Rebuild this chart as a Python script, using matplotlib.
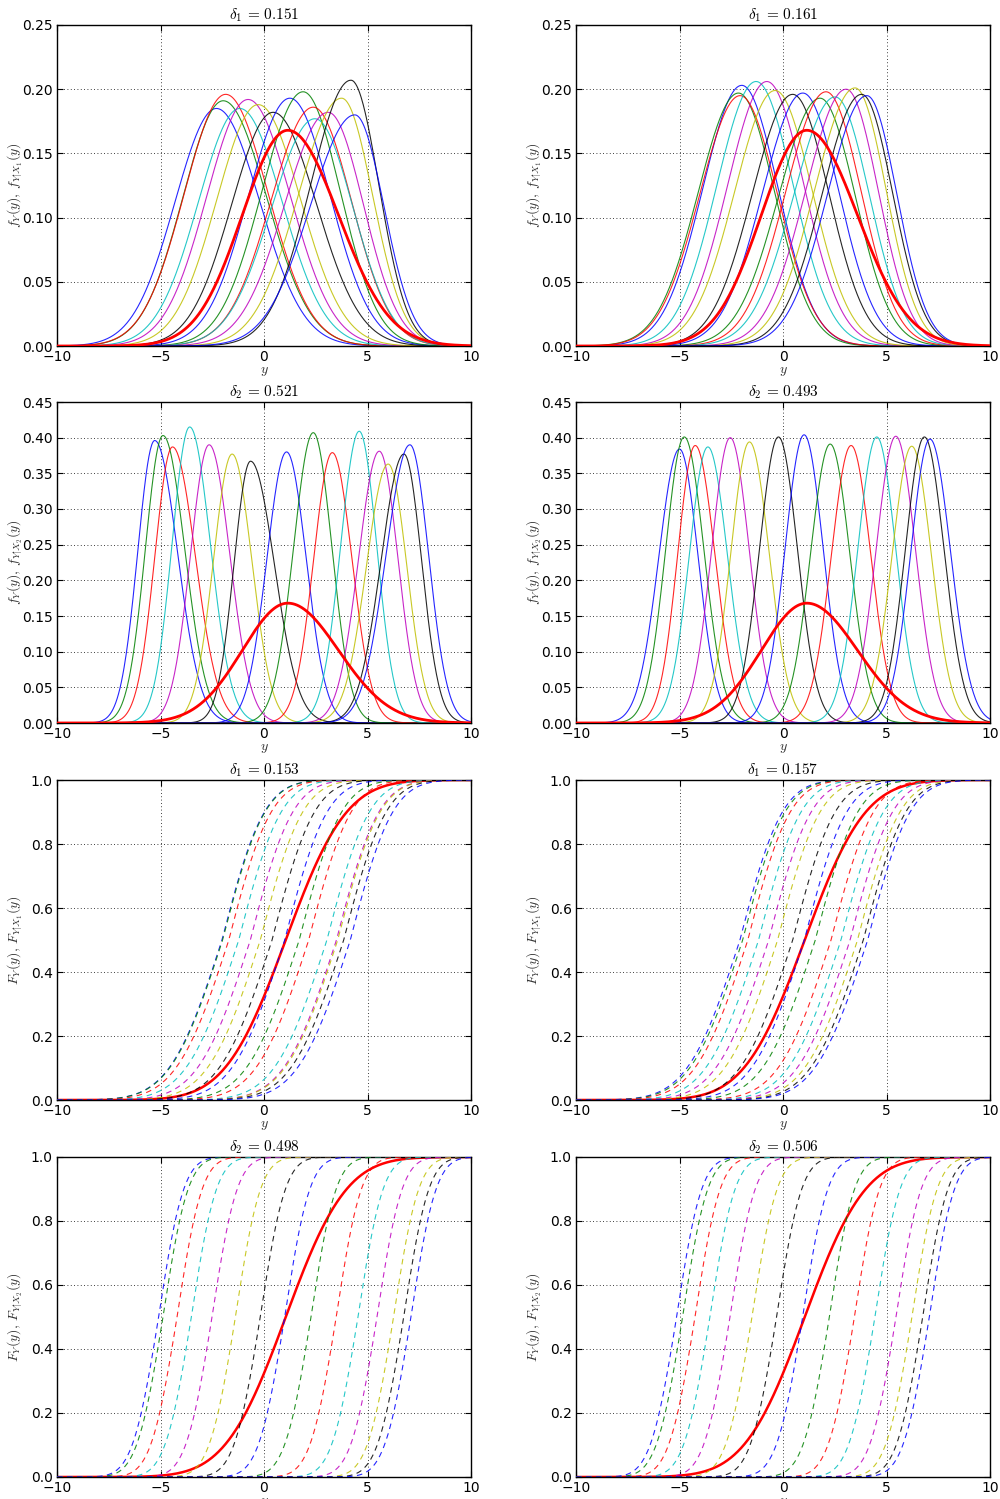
import numpy as np
import matplotlib
matplotlib.use('Agg')
import matplotlib.pyplot as plt
from matplotlib.ticker import FormatStrFormatter
from math import erf, sqrt

plt.rcParams['mathtext.fontset'] = 'cm'
plt.rcParams['font.family'] = ['DejaVu Sans']

# old matplotlib colour cycle: b g r c m y k
colours = ['#0000ff', '#008000', '#ff0000', '#00bfbf', '#bf00bf', '#bfbf00', '#000000']

# unconditional Y (thick red line, same in every panel)
y_centre = 1.15
y_peak = 0.168
y_sd_left = 2.2
y_sd_right = 2.45
y_median = 1.05
y_sd = 2.3

# row 1, left: f_{Y|X1}, delta_1 = 0.151
pdf1a_centre = [-2.3, -1.97, -1.85, -1.17, -0.77, -0.28, 0.44, 1.25, 1.89, 2.38, 2.46, 3.1, 3.75, 4.2, 4.39]
pdf1a_peak = [0.185, 0.191, 0.196, 0.185, 0.192, 0.188, 0.182, 0.193, 0.198, 0.186, 0.177, 0.182, 0.193, 0.207, 0.180]
pdf1a_sl = [2.0, 1.95, 2.0, 2.0, 2.0, 2.0, 2.0, 2.0, 2.0, 2.05, 2.1, 2.1, 2.1, 1.95, 2.15]
pdf1a_sr = [2.1, 2.1, 2.05, 2.05, 2.05, 2.05, 2.1, 1.95, 1.8, 1.85, 1.85, 1.7, 1.5, 1.35, 1.4]

# row 1, right: f_{Y|X1}, delta_1 = 0.161
pdf1b_centre = [-1.99, -2.15, -2.07, -1.3, -0.78, -0.38, 0.47, 0.96, 1.79, 2.08, 2.52, 3.05, 3.48, 3.8, 4.05]
pdf1b_peak = [0.203, 0.197, 0.195, 0.206, 0.206, 0.199, 0.196, 0.197, 0.193, 0.198, 0.194, 0.200, 0.201, 0.196, 0.195]
pdf1b_sl = [1.88, 1.95, 1.95, 1.9, 1.9, 1.95, 1.95, 1.95, 2.0, 1.95, 2.0, 1.95, 1.95, 1.9, 1.9]
pdf1b_sr = [1.75, 1.75, 1.8, 1.8, 1.8, 1.8, 1.75, 1.75, 1.7, 1.7, 1.65, 1.55, 1.5, 1.5, 1.45]

# row 2, left: f_{Y|X2}, delta_2 = 0.521
pdf2a_centre = [-5.28, -4.88, -4.42, -3.59, -2.65, -1.54, -0.65, 1.09, 2.38, 3.3, 4.6, 5.57, 6.0, 6.76, 7.05]
pdf2a_peak = [0.396, 0.403, 0.387, 0.415, 0.390, 0.377, 0.367, 0.380, 0.407, 0.379, 0.409, 0.381, 0.363, 0.377, 0.390]
pdf2a_sl = [0.82, 0.85, 0.85, 0.85, 0.9, 0.9, 0.8, 0.95, 0.95, 0.9, 0.9, 1.0, 1.05, 1.1, 1.15]
pdf2a_sr = [1.1, 1.05, 1.1, 1.0, 1.0, 0.95, 1.15, 0.95, 0.9, 0.95, 0.85, 0.9, 0.9, 0.85, 0.9]

# row 2, right: f_{Y|X2}, delta_2 = 0.493
pdf2b_centre = [-5.0, -4.77, -4.24, -3.63, -2.55, -1.62, -0.22, 1.02, 2.28, 3.29, 4.53, 5.45, 6.22, 6.83, 7.10]
pdf2b_peak = [0.384, 0.401, 0.389, 0.387, 0.400, 0.394, 0.401, 0.404, 0.391, 0.389, 0.401, 0.402, 0.388, 0.401, 0.398]
pdf2b_sl = [1.0, 0.9, 0.85, 0.9, 0.9, 0.9, 0.92, 0.92, 0.95, 0.95, 0.92, 0.95, 0.95, 0.92, 0.92]
pdf2b_sr = [0.9, 0.95, 0.95, 0.95, 0.92, 0.95, 0.92, 0.92, 0.95, 0.95, 0.92, 0.95, 0.95, 0.95, 0.99]

cdf1a_median = [-2.03, -2.0, -1.7, -1.22, -0.66, -0.18, 0.39, 1.0, 1.7, 2.16, 3.04, 3.5, 3.56, 3.85, 4.17]
cdf1b_median = [-2.08, -1.95, -1.7, -1.18, -0.69, -0.26, 0.47, 1.03, 1.56, 2.32, 2.8, 3.24, 3.6, 3.88, 4.09]
cdf1_sl = 2.0
cdf1_sr = 1.6

# row 4: F_{Y|X2}
cdf2a_median = [-5.09, -4.88, -4.2, -3.51, -2.51, -1.38, -0.18, 1.0, 2.27, 3.49, 4.54, 5.46, 6.26, 6.75, 7.1]
cdf2b_median = [-5.14, -4.85, -4.25, -3.53, -2.56, -1.5, -0.31, 0.95, 2.24, 3.45, 4.44, 5.46, 6.23, 6.75, 7.07]
cdf2_sl = 1.0
cdf2_sr = 0.95

titles = [r'$\delta_1\,=\,0.151$', r'$\delta_1\,=\,0.161$',
          r'$\delta_2\,=\,0.521$', r'$\delta_2\,=\,0.493$',
          r'$\delta_1\,=\,0.153$', r'$\delta_1\,=\,0.157$',
          r'$\delta_2\,=\,0.498$', r'$\delta_2\,=\,0.506$']
ylabels = [r'$f_Y(y),\, f_{Y|X_1}(y)$', r'$f_Y(y),\, f_{Y|X_2}(y)$',
           r'$F_Y(y),\, F_{Y|X_1}(y)$', r'$F_Y(y),\, F_{Y|X_2}(y)$']

yy = np.linspace(-10, 10, 600)


def bump(c, peak, sl, sr):
    s = np.where(yy < c, sl, sr)
    return peak * np.exp(-(yy - c) ** 2 / (2. * s ** 2))


def cum(m, sl, sr):
    s = np.where(yy < m, sl, sr)
    z = (yy - m) / s
    return np.array([0.5 * (1. + erf(v / sqrt(2.))) for v in z])


fig = plt.figure(figsize=(10, 14.99), dpi=100)
H = 1499.
col_left = [57 / 1000., 576 / 1000.]
row_px = [(25, 346), (402, 723), (780, 1100), (1157, 1477)]

pdf_sets = [[(pdf1a_centre, pdf1a_peak, pdf1a_sl, pdf1a_sr), (pdf1b_centre, pdf1b_peak, pdf1b_sl, pdf1b_sr)],
            [(pdf2a_centre, pdf2a_peak, pdf2a_sl, pdf2a_sr), (pdf2b_centre, pdf2b_peak, pdf2b_sl, pdf2b_sr)]]
cdf_sets = [[(cdf1a_median, cdf1_sl, cdf1_sr), (cdf1b_median, cdf1_sl, cdf1_sr)],
            [(cdf2a_median, cdf2_sl, cdf2_sr), (cdf2b_median, cdf2_sl, cdf2_sr)]]

for r in range(4):
    top, bot = row_px[r]
    for c in range(2):
        ax = fig.add_axes([col_left[c], 1 - bot / H, 0.414, (bot - top) / H])
        if r < 2:
            # densities
            ax.plot(yy, bump(y_centre, y_peak, y_sd_left, y_sd_right), color='#ff0000', lw=2, zorder=3)
            cen, pk, sl, sr = pdf_sets[r][c]
            for i in range(len(cen)):
                ax.plot(yy, bump(cen[i], pk[i], sl[i], sr[i]), color=colours[i % 7],
                        lw=0.8, alpha=0.85, zorder=2)
            if r == 0:
                ax.set_ylim(0, 0.25)
                ax.set_yticks(np.arange(0, 0.2501, 0.05))
            else:
                ax.set_ylim(0, 0.45)
                ax.set_yticks(np.arange(0, 0.4501, 0.05))
            ax.yaxis.set_major_formatter(FormatStrFormatter('%.2f'))
        else:
            # cumulative
            ax.plot(yy, cum(y_median, y_sd, y_sd), color='#ff0000', lw=1.8, zorder=2)
            med, sl, sr = cdf_sets[r - 2][c]
            for i in range(len(med)):
                ax.plot(yy, cum(med[i], sl, sr), color=colours[i % 7], lw=0.8, alpha=0.85,
                        linestyle=(0, (5, 4)), zorder=3)
            ax.set_ylim(0, 1.0)
            ax.set_yticks(np.arange(0, 1.001, 0.2))
            ax.yaxis.set_major_formatter(FormatStrFormatter('%.1f'))
        ax.set_xlim(-10, 10)
        ax.set_xticks([-10, -5, 0, 5, 10])
        ax.grid(True, color='k', linestyle=(0, (1, 3)), linewidth=0.6)
        ax.tick_params(direction='in', top=True, right=True, length=4, width=0.8,
                       labelsize=10, pad=3)
        for sp in ax.spines.values():
            sp.set_linewidth(1.0)
        ax.set_title(titles[2 * r + c], fontsize=11, pad=4)
        ax.set_ylabel(ylabels[r], fontsize=10, color='#333333')
        ax.yaxis.set_label_coords(-0.078, 0.5)
        ax.set_xlabel(r'$y$', fontsize=10, labelpad=0, color='#333333')

fig.savefig('out.png', dpi=100)
